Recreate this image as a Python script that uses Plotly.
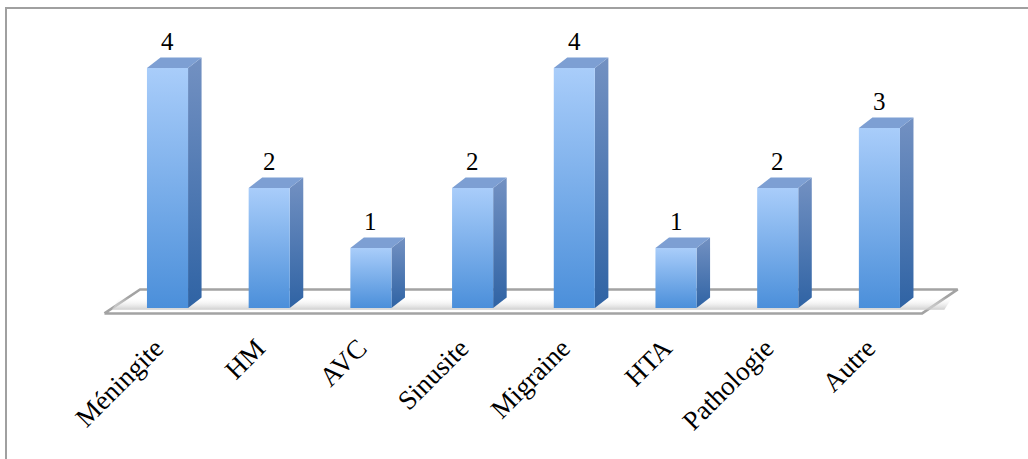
import plotly.graph_objects as go

# Category counts
categories = ["Méningite", "HM", "AVC", "Sinusite", "Migraine", "HTA", "Pathologie", "Autre"]
counts = [4, 2, 1, 2, 4, 1, 2, 3]

# Geometry of the pseudo-3D bars (data units)
HALF_W = 0.202      # half width of the front face
DEPTH_X = 0.133     # horizontal depth offset
DEPTH_Y = 0.175     # vertical depth offset

# Floor plane under the bars
FLOOR_X0, FLOOR_X1, FLOOR_Y = -0.62, 7.42, -0.09
FLOOR_DX, FLOOR_DY = 0.35, 0.40

FONT = "Liberation Serif"

fig = go.Figure()

# floor plane
fx = [FLOOR_X0, FLOOR_X1, FLOOR_X1 + FLOOR_DX, FLOOR_X0 + FLOOR_DX, FLOOR_X0]
fy = [FLOOR_Y, FLOOR_Y, FLOOR_Y + FLOOR_DY, FLOOR_Y + FLOOR_DY, FLOOR_Y]
fig.add_trace(go.Scatter(x=fx, y=fy, mode="lines", fill="toself", fillcolor="white",
                         line=dict(color="#a3a3a3", width=2.5), hoverinfo="skip"))

# soft shadow band across the floor
sy0, sy1 = FLOOR_Y + 0.06, FLOOR_Y + 0.27
sx0 = FLOOR_X0 + FLOOR_DX * 0.15 + 0.02
sx1 = FLOOR_X1 + FLOOR_DX * 0.68 - 0.02
fig.add_trace(go.Scatter(
    x=[sx0, sx1, sx1 + 0.08, sx0 + 0.08, sx0],
    y=[sy0, sy0, sy1, sy1, sy0],
    mode="lines", fill="toself", line=dict(width=0),
    fillgradient=dict(type="vertical", start=sy0, stop=sy1,
                      colorscale=[[0, "rgba(200,200,200,0.9)"], [1, "rgba(255,255,255,0)"]]),
    hoverinfo="skip"))

for i, v in enumerate(counts):
    xl, xr = i - HALF_W, i + HALF_W
    # side face
    fig.add_trace(go.Scatter(
        x=[xr, xr + DEPTH_X, xr + DEPTH_X, xr, xr],
        y=[0, DEPTH_Y, v + DEPTH_Y, v, 0],
        mode="lines", fill="toself", line=dict(width=0),
        fillgradient=dict(type="vertical", start=0, stop=v + DEPTH_Y,
                          colorscale=[[0, "#2f63a4"], [1, "#7391c2"]]),
        hoverinfo="skip"))
    # top face
    fig.add_trace(go.Scatter(
        x=[xl, xr, xr + DEPTH_X, xl + DEPTH_X, xl],
        y=[v, v, v + DEPTH_Y, v + DEPTH_Y, v],
        mode="lines", fill="toself", fillcolor="#7d9fd3", line=dict(width=0),
        hoverinfo="skip"))
    # front face
    fig.add_trace(go.Scatter(
        x=[xl, xr, xr, xl, xl],
        y=[0, 0, v, v, 0],
        mode="lines", fill="toself", line=dict(width=0),
        fillgradient=dict(type="vertical", start=0, stop=v,
                          colorscale=[[0, "#4b8fda"], [1, "#a9cdfa"]]),
        hoverinfo="skip"))
    fig.add_annotation(x=i, y=v, yshift=27, text=str(v), showarrow=False,
                       xanchor="center", yanchor="middle",
                       font=dict(family=FONT, size=25, color="black"))

# outer frame
fig.add_shape(type="rect", xref="paper", yref="paper",
              x0=6 / 1028, x1=1.01, y0=-0.5, y1=(330 - 8) / 330,
              line=dict(color="#a0a0a0", width=2), fillcolor="rgba(0,0,0,0)")

fig.update_layout(
    width=1028, height=459,
    margin=dict(l=0, r=0, t=0, b=129),
    paper_bgcolor="white", plot_bgcolor="white",
    showlegend=False,
    xaxis=dict(range=[-1.647, 8.461], tickvals=list(range(len(categories))),
               ticktext=categories, tickangle=-45, showgrid=False, zeroline=False,
               showline=False, ticks="", fixedrange=True,
               ticklabelshift=-12, ticklabelstandoff=-4,
               tickfont=dict(family=FONT, size=27, color="black")),
    yaxis=dict(range=[-0.3667, 5.1333], visible=False, fixedrange=True),
)

fig.write_html("out.html")
